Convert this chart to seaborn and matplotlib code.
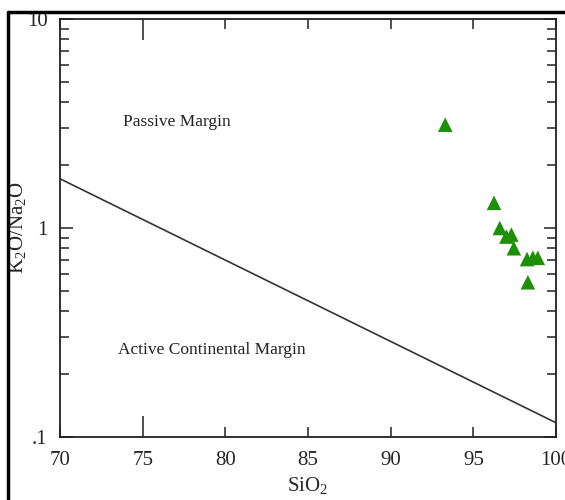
import numpy as np
import pandas as pd
import seaborn as sns
import matplotlib.pyplot as plt
from matplotlib.lines import Line2D
from matplotlib.ticker import LogLocator, NullFormatter

sns.set_style('ticks')
plt.rcParams['font.family'] = ['Liberation Serif', 'DejaVu Serif']
plt.rcParams['mathtext.fontset'] = 'custom'
plt.rcParams['mathtext.rm'] = 'Liberation Serif'

# sample points
sio2 = [93.3, 96.25, 96.6, 97.0, 97.3, 97.45, 98.25, 98.6, 98.9, 98.3]
k2o_na2o = [3.12, 1.32, 1.0, 0.91, 0.93, 0.80, 0.71, 0.72, 0.72, 0.55]

# boundary line between the two fields
line_x = [70, 100]
line_y = [1.72, 0.117]

x_ticks = [70, 75, 80, 85, 90, 95, 100]
x_labels = ['70', '75', '80', '85', '90', '95', '100']
y_ticks = [0.1, 1, 10]
y_labels = ['.1', '1', '10']

data = pd.DataFrame({'SiO2': sio2, 'ratio': k2o_na2o})
bound = pd.DataFrame({'x': line_x, 'y': line_y})

fig = plt.figure(figsize=(5.65, 5.0), dpi=100)
ax = fig.add_axes([60 / 565, 63 / 500, 496 / 565, 418 / 500])

sns.lineplot(data=bound, x='x', y='y', ax=ax, color='#333333', lw=1.2)
sns.scatterplot(data=data, x='SiO2', y='ratio', ax=ax, marker='^', s=110,
                color='#1f8f0a', edgecolor='none', zorder=5)

ax.set_yscale('log')
ax.set_xlim(70, 100)
ax.set_ylim(0.1, 10)

ax.set_xticks(x_ticks)
ax.set_xticklabels(x_labels)
ax.set_yticks(y_ticks)
ax.set_yticklabels(y_labels)
ax.yaxis.set_minor_locator(LogLocator(base=10, subs=np.arange(2, 10)))
ax.yaxis.set_minor_formatter(NullFormatter())

ax.tick_params(axis='both', which='major', direction='in', top=True, right=True,
               length=7, width=1.2, color='#333333', labelsize=15)
ax.tick_params(axis='x', which='major', pad=10)
ax.tick_params(axis='y', which='major', length=9, pad=9)
ax.tick_params(axis='y', which='minor', direction='in', left=True, right=True,
               length=6.5, width=1.2, color='#333333')
# the 75 tick is drawn longer than the rest
for t in ax.xaxis.get_major_ticks():
    if abs(t.get_loc() - 75) < 0.01:
        t.tick1line.set_markersize(15)
        t.tick2line.set_markersize(15)

for sp in ax.spines.values():
    sp.set_linewidth(1.3)
    sp.set_color('#222222')

ax.set_xlabel('SiO$_2$', fontsize=15, labelpad=4)
ax.set_ylabel('K$_2$O/Na$_2$O', fontsize=15, va='center')
ax.yaxis.set_label_coords(-0.085, 0.5)

ax.text(73.8, 3.22, 'Passive Margin', fontsize=12.5, va='center', color='#222222')
ax.text(73.5, 0.26, 'Active Continental Margin', fontsize=12.5, va='center', color='#222222')

# outer frame of the original figure
fig.add_artist(Line2D([8 / 565, 8 / 565], [0, 1 - 12 / 500], transform=fig.transFigure,
                      color='black', lw=2.5))
fig.add_artist(Line2D([8 / 565, 1], [1 - 12 / 500, 1 - 12 / 500], transform=fig.transFigure,
                      color='black', lw=2.5))

fig.savefig('out.png', dpi=100)
